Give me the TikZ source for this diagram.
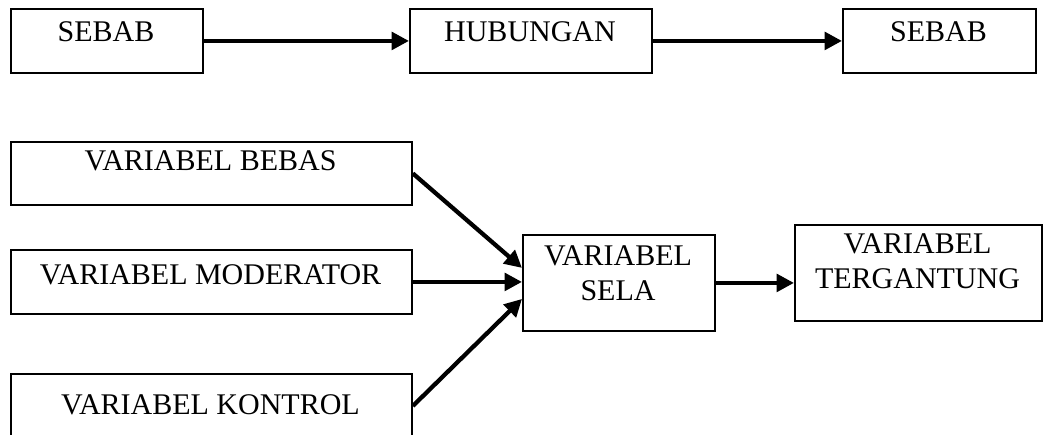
\documentclass[tikz,border=0pt]{standalone}
\usepackage{fontspec}
\setmainfont{Liberation Serif}
\usetikzlibrary{arrows.meta}
\tikzset{
  kotak/.style={draw,line width=1.4pt,inner sep=0pt,anchor=north west},
  teks/.style={anchor=base,inner sep=0pt,align=center,font=\fontsize{22.5}{26}\selectfont},
  panah/.style={line width=3.2pt,-{Triangle[length=13pt,width=13pt]}}
}
\begin{document}
\begin{tikzpicture}[x=0.75pt,y=-0.75pt]
\useasboundingbox (0,0) rectangle (1043,435);
\clip (0,0) rectangle (1043,435);
% baris atas: sebab -> hubungan -> sebab
\node[kotak,minimum width=144pt,minimum height=48pt] (sebabA) at (10,8) {};
\node[kotak,minimum width=181.5pt,minimum height=48pt] (hub) at (409,8) {};
\node[kotak,minimum width=144.75pt,minimum height=48pt] (sebabB) at (842,8) {};
\node[teks] (sebabA-t) at (106,42) {SEBAB};
\node[teks] (hub-t) at (530,42) {HUBUNGAN};
\node[teks] (sebabB-t) at (938.5,42) {SEBAB};
\draw[panah] (sebabA.east) -- (hub.west);
\draw[panah] (hub.east) -- (sebabB.west);
% baris bawah: variabel
\node[kotak,minimum width=300.75pt,minimum height=47.25pt] (bebas) at (10,141) {};
\node[kotak,minimum width=300.75pt,minimum height=48pt] (moder) at (10,249) {};
\node[kotak,minimum width=300.75pt,minimum height=48pt] (kontrol) at (10,373) {}; % terpotong di bawah
\node[kotak,minimum width=144pt,minimum height=72pt] (sela) at (522,234) {};
\node[kotak,minimum width=185.25pt,minimum height=72pt] (terg) at (794,224) {};
\node[teks] (bebas-t) at (210.5,171) {VARIABEL BEBAS};
\node[teks] (moder-t) at (210.5,284) {VARIABEL MODERATOR};
\node[teks] (kontrol-t) at (210.5,414) {VARIABEL KONTROL};
\node[teks] (sela-t) at (618,300) {VARIABEL\\SELA};
\node[teks] (terg-t) at (917.5,288) {VARIABEL\\TERGANTUNG};
\draw[panah] (bebas.east) -- ([yshift=11.25pt]sela.west);
\draw[panah] (moder.east) -- (moder.east -| sela.west);
\draw[panah] (kontrol.east) -- ([yshift=-12pt]sela.west);
\draw[panah] (sela.east) -- (sela.east -| terg.west);
\end{tikzpicture}
\end{document}
